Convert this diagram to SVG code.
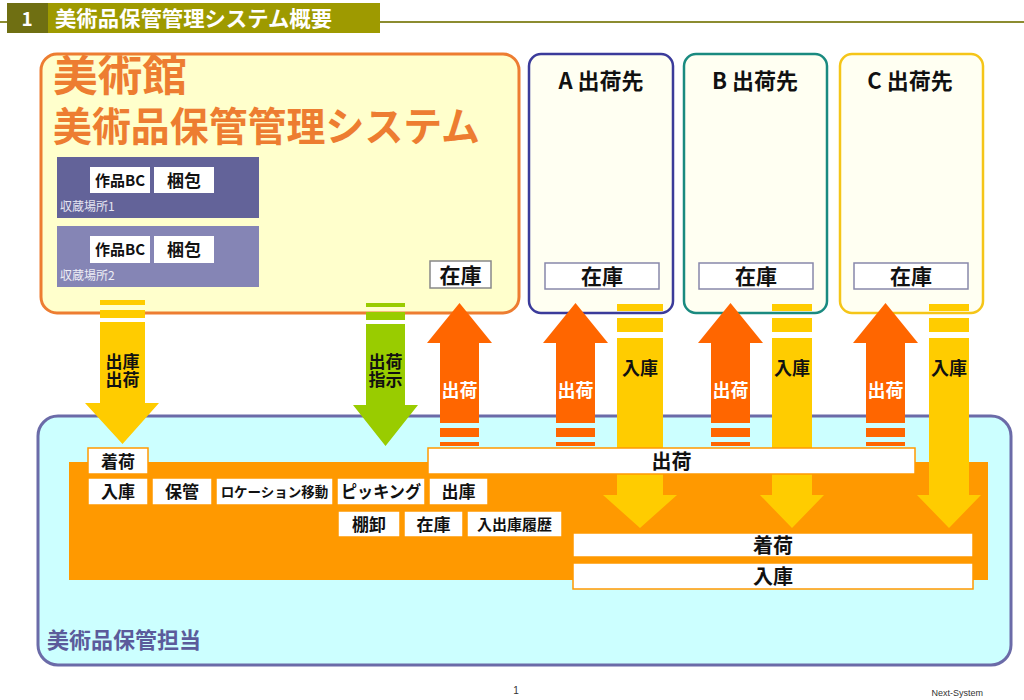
<svg xmlns="http://www.w3.org/2000/svg" width="1024" height="700" viewBox="0 0 1024 700">
<style>
text{font-family:"Noto Sans CJK JP","Noto Sans",sans-serif;font-weight:bold}
.w{fill:#ffffff}
.k{fill:#111111}
.wb{fill:#ffffff;stroke:#ff9900;stroke-width:1.5}
.zk{fill:#ffffff;stroke:#8888aa;stroke-width:1.5}
.or{fill:#ff6600}
.ye{fill:#ffcc00}
.gr{fill:#99cc00}
.dest{fill:#fffff2;stroke-width:2.5}
</style>
<rect width="1024" height="700" fill="#ffffff"/>
<g id="header">
<line x1="0" y1="22" x2="1024" y2="22" stroke="#8c8c30" stroke-width="2"/>
<rect x="7" y="3" width="41" height="30" fill="#6f6f12"/>
<rect x="48" y="3" width="332" height="30" fill="#9e9a00"/>
<text x="27" y="26" font-size="19" text-anchor="middle" class="w">1</text>
<text x="55" y="26" font-size="21" class="w" textLength="277" lengthAdjust="spacingAndGlyphs">美術品保管管理システム概要</text>
</g>
<g id="museum">
<rect x="41" y="54" width="478" height="259" rx="16" fill="#ffffcc" stroke="#ed7d31" stroke-width="3"/>
<text font-size="40" fill="#ed7d31"><tspan x="53" y="91" font-size="42" textLength="134" lengthAdjust="spacingAndGlyphs">美術館</tspan><tspan x="53" y="141" textLength="427" lengthAdjust="spacingAndGlyphs">美術品保管管理システム</tspan></text>
<rect x="430" y="261" width="61" height="27" fill="#ffffff" stroke="#888888" stroke-width="1.5"/>
<text x="460.5" y="282.5" font-size="21" text-anchor="middle" class="k">在庫</text>
</g>
<g id="storage1">
<rect x="57" y="157" width="202" height="61" fill="#636399"/>
<rect x="90" y="167" width="60" height="26" fill="#ffffff"/>
<text x="120" y="186" font-size="15" text-anchor="middle" class="k">作品BC</text>
<rect x="154" y="167" width="60" height="26" fill="#ffffff"/>
<text x="184" y="187" font-size="17" text-anchor="middle" class="k">梱包</text>
<text x="60" y="211" font-size="12" fill="#e6e6f2" style="font-weight:normal">収蔵場所1</text>
</g>
<g id="storage2">
<rect x="57" y="226" width="202" height="61" fill="#8585b5"/>
<rect x="90" y="236" width="60" height="27" fill="#ffffff"/>
<text x="120" y="255" font-size="15" text-anchor="middle" class="k">作品BC</text>
<rect x="154" y="236" width="60" height="27" fill="#ffffff"/>
<text x="184" y="256" font-size="17" text-anchor="middle" class="k">梱包</text>
<text x="60" y="280" font-size="12" fill="#eeeef6" style="font-weight:normal">収蔵場所2</text>
</g>
<g id="destA">
<rect x="529" y="54" width="144" height="259" rx="12" class="dest" stroke="#3b3b9b"/>
<text x="601" y="89" font-size="22" text-anchor="middle" class="k">A<tspan dx="5">出荷先</tspan></text>
<rect x="545" y="263" width="114" height="26" class="zk"/>
<text x="602" y="284" font-size="21" text-anchor="middle" class="k">在庫</text>
</g>
<g id="destB">
<rect x="684" y="54" width="143" height="259" rx="12" class="dest" stroke="#1a8a80"/>
<text x="755" y="89" font-size="22" text-anchor="middle" class="k">B<tspan dx="5">出荷先</tspan></text>
<rect x="699" y="263" width="114" height="26" class="zk"/>
<text x="756" y="284" font-size="21" text-anchor="middle" class="k">在庫</text>
</g>
<g id="destC">
<rect x="840" y="54" width="143" height="259" rx="12" class="dest" stroke="#f5c518"/>
<text x="910" y="89" font-size="22" text-anchor="middle" class="k">C<tspan dx="5">出荷先</tspan></text>
<rect x="854" y="263" width="114" height="26" class="zk"/>
<text x="911" y="284" font-size="21" text-anchor="middle" class="k">在庫</text>
</g>
<g id="staff">
<rect x="38" y="416" width="973" height="249" rx="20" fill="#ccffff" stroke="#6b6ba8" stroke-width="3"/>
<text x="47" y="648" font-size="22" fill="#5b5b9b">美術品保管担当</text>
<rect x="69" y="462" width="919" height="118" fill="#ff9900"/>
</g>
<g id="tasks">
<rect x="88" y="448" width="60" height="26" class="wb"/>
<text x="118" y="467.5" font-size="17" text-anchor="middle" class="k">着荷</text>
<rect x="88" y="478" width="60" height="27" class="wb"/>
<text x="118" y="498" font-size="17" text-anchor="middle" class="k">入庫</text>
<rect x="152" y="478" width="60" height="27" class="wb"/>
<text x="182" y="498" font-size="17" text-anchor="middle" class="k">保管</text>
<rect x="216" y="478" width="117" height="27" class="wb"/>
<text x="274.5" y="496.5" font-size="13.5" text-anchor="middle" class="k">ロケーション移動</text>
<rect x="337" y="478" width="88" height="27" class="wb"/>
<text x="381" y="498" font-size="17" text-anchor="middle" class="k" textLength="80" lengthAdjust="spacingAndGlyphs">ピッキング</text>
<rect x="429" y="478" width="59" height="27" class="wb"/>
<text x="458.5" y="498" font-size="17" text-anchor="middle" class="k">出庫</text>
<rect x="338" y="511" width="62" height="26" class="wb"/>
<text x="369" y="530.5" font-size="17" text-anchor="middle" class="k">棚卸</text>
<rect x="404" y="511" width="59" height="26" class="wb"/>
<text x="433.5" y="530.5" font-size="17" text-anchor="middle" class="k">在庫</text>
<rect x="467" y="511" width="95" height="26" class="wb"/>
<text x="514.5" y="530" font-size="15" text-anchor="middle" class="k">入出庫履歴</text>
</g>
<g id="connectors">
<rect x="100" y="300" width="45" height="5" class="ye"/>
<rect x="100" y="310" width="45" height="8" class="ye"/>
<polygon points="100,322 145,322 145,403 159,403 122.5,444 85,403 100,403" class="ye"/>
<text font-size="17" text-anchor="middle" class="k"><tspan x="122.5" y="368">出庫</tspan><tspan x="122.5" y="386">出荷</tspan></text>
<rect x="366" y="303" width="39" height="4" class="gr"/>
<rect x="366" y="312" width="39" height="8" class="gr"/>
<polygon points="366,324 405,324 405,405 418,405 385.5,446 353,405 366,405" class="gr"/>
<text font-size="17" text-anchor="middle" class="k"><tspan x="385.5" y="368">出荷</tspan><tspan x="385.5" y="386">指示</tspan></text>
<polygon points="459.5,303 492,343 479,343 479,423 440,423 440,343 427,343" class="or"/>
<rect x="440" y="428" width="39" height="9" class="or"/>
<rect x="440" y="442" width="39" height="4" class="or"/>
<text x="459.5" y="397" font-size="18" text-anchor="middle" class="w">出荷</text>
<polygon points="575.5,303 608,343 595,343 595,423 556,423 556,343 543,343" class="or"/>
<rect x="556" y="428" width="39" height="9" class="or"/>
<rect x="556" y="442" width="39" height="4" class="or"/>
<text x="575.5" y="397" font-size="18" text-anchor="middle" class="w">出荷</text>
<polygon points="730.5,303 763,343 750,343 750,423 711,423 711,343 698,343" class="or"/>
<rect x="711" y="428" width="39" height="9" class="or"/>
<rect x="711" y="442" width="39" height="4" class="or"/>
<text x="730.5" y="397" font-size="18" text-anchor="middle" class="w">出荷</text>
<polygon points="885.5,303 918,343 905,343 905,423 866,423 866,343 853,343" class="or"/>
<rect x="866" y="428" width="39" height="9" class="or"/>
<rect x="866" y="442" width="39" height="4" class="or"/>
<text x="885.5" y="397" font-size="18" text-anchor="middle" class="w">出荷</text>
<rect x="617" y="304" width="46" height="7" class="ye"/>
<rect x="617" y="318" width="46" height="14" class="ye"/>
<polygon points="617,338 663,338 663,495 677,495 640,528 603,495 617,495" class="ye"/>
<text x="640" y="375" font-size="18" text-anchor="middle" class="k">入庫</text>
<rect x="772" y="304" width="40" height="7" class="ye"/>
<rect x="772" y="318" width="40" height="14" class="ye"/>
<polygon points="772,338 812,338 812,495 824,495 792,528 760,495 772,495" class="ye"/>
<text x="792" y="375" font-size="18" text-anchor="middle" class="k">入庫</text>
<rect x="929" y="304" width="40" height="7" class="ye"/>
<rect x="929" y="318" width="40" height="14" class="ye"/>
<polygon points="929,338 969,338 969,495 981,495 949,528 917,495 929,495" class="ye"/>
<text x="949" y="375" font-size="18" text-anchor="middle" class="k">入庫</text>
</g>
<g id="bars">
<rect x="428" y="448" width="487" height="26" class="wb"/>
<text x="671.5" y="469" font-size="20" text-anchor="middle" class="k">出荷</text>
<rect x="573" y="533" width="400" height="24" class="wb"/>
<text x="773" y="552.5" font-size="20" text-anchor="middle" class="k">着荷</text>
<rect x="573" y="563" width="400" height="26" class="wb"/>
<text x="773" y="583.5" font-size="20" text-anchor="middle" class="k">入庫</text>
</g>
<g id="footer">
<text x="516" y="694" font-size="10" text-anchor="middle" fill="#333333" style="font-family:'Liberation Sans',sans-serif;font-weight:normal">1</text>
<text x="983" y="696" font-size="9" text-anchor="end" fill="#333333" style="font-family:'Liberation Sans',sans-serif;font-weight:normal">Next-System</text>
</g>
</svg>
